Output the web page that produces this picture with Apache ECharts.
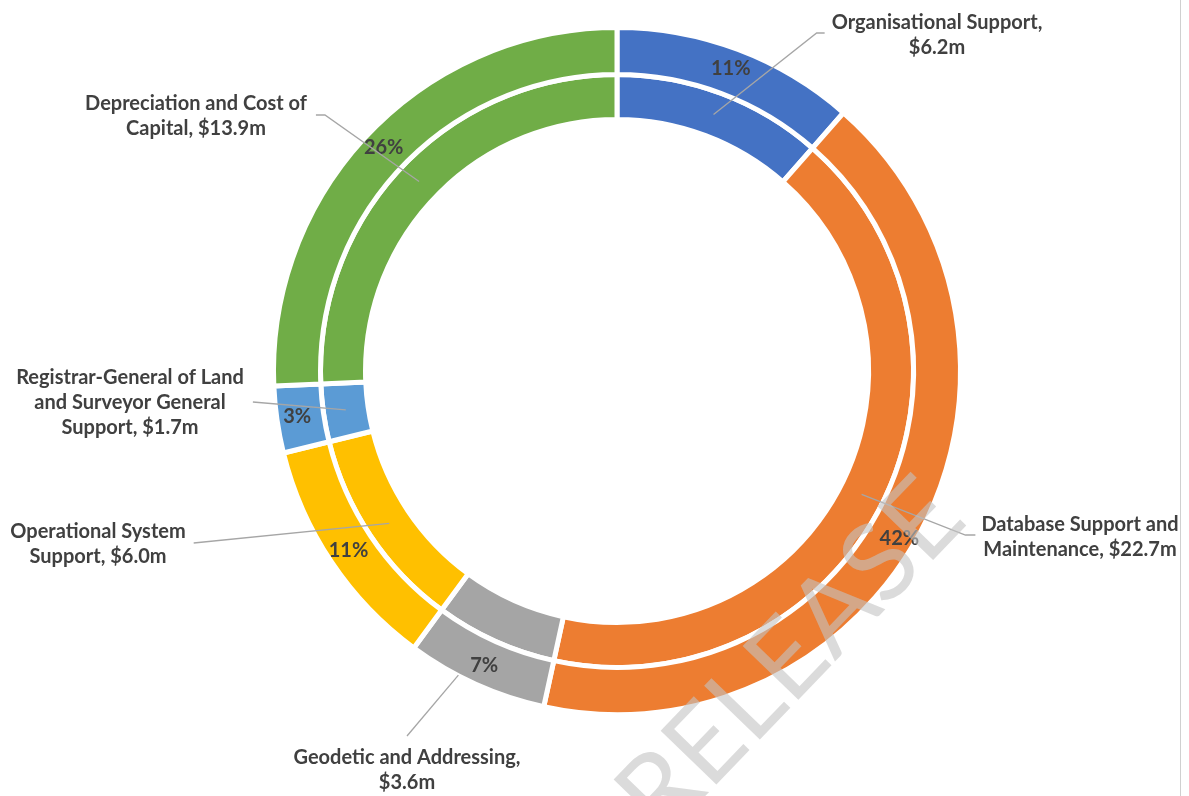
<!DOCTYPE html>
<html>
<head>
<meta charset="utf-8">
<script src="https://cdn.jsdelivr.net/npm/echarts@6/dist/echarts.min.js"></script>
<style>
html,body{margin:0;padding:0;background:#fff;}
#chart{width:1189px;height:796px;}
</style>
</head>
<body>
<div id="chart"></div>
<script>
// ---- data ----
const categories = [
  "Organisational Support",
  "Database Support and Maintenance",
  "Geodetic and Addressing",
  "Operational System Support",
  "Registrar-General of Land and Surveyor General Support",
  "Depreciation and Cost of Capital"
];
const values = [6.2, 22.7, 3.6, 6.0, 1.7, 13.9];   // $m
const colors = ['#4472C4', '#ED7D31', '#A5A5A5', '#FFC000', '#5B9BD5', '#70AD47'];
const wordsPerLine = [[2, 1], [3, 2], [3, 1], [2, 2], [3, 3, 2], [4, 2]];

// ---- layout (label placement, not data) ----
const CENTER = [617, 371];
const labelPlacement = [
  { x: 937,  y: 35,  side: 'left',  gap: 7, tail: 8 },
  { x: 1080, y: 537, side: 'left',  gap: 6, tail: 10 },
  { x: 407,  y: 770, side: 'top',   gap: 9, tail: 0, clipR: 343 },
  { x: 98,   y: 544, side: 'right', gap: 8, tail: 0 },
  { x: 130,  y: 403, side: 'right', gap: 9, tail: 0 },
  { x: 196,  y: 116, side: 'right', gap: 9, tail: 9 }
];
// small nudges of the percentage labels (pixels)
const percentNudge = [[0, 0], [-6, 22], [0, 0], [0, 0], [0, 0], [0, 0]];

function labelText(i) {
  const words = (categories[i] + ', $' + values[i].toFixed(1) + 'm').split(' ');
  const lines = [];
  let k = 0;
  wordsPerLine[i].forEach(n => { lines.push(words.slice(k, k + n).join(' ')); k += n; });
  return lines.join('\n');
}

const ringData = categories.map((c, i) => ({ name: c, value: values[i], itemStyle: { color: colors[i] } }));
const hostData = categories.map((c, i) => ({ name: c, value: values[i] }));
const FONT = 'Lato, "Open Sans", sans-serif';

const chart = echarts.init(document.getElementById('chart'), null, { renderer: 'canvas' });

const ringCommon = {
  type: 'pie',
  center: CENTER,
  startAngle: 90,
  clockwise: true,
  silent: true,
  z: 2,
  avoidLabelOverlap: false,
  emphasis: { disabled: true },
  itemStyle: { borderColor: '#ffffff', borderWidth: 5 },
  labelLine: { show: false }
};

chart.setOption({
  animation: false,
  backgroundColor: '#ffffff',
  series: [
    Object.assign({}, ringCommon, {
      name: 'inner',
      radius: [251.5, 296.5],
      label: { show: false },
      data: ringData
    }),
    Object.assign({}, ringCommon, {
      name: 'outer',
      radius: [296.5, 343.5],
      label: {
        show: true,
        position: 'inside',
        formatter: p => Math.round(p.percent) + '%',
        color: '#404040',
        fontFamily: FONT,
        fontWeight: 'bold',
        fontSize: 20,
        textBorderWidth: 0
      },
      labelLayout: p => ({ dx: percentNudge[p.dataIndex][0], dy: percentNudge[p.dataIndex][1] }),
      data: ringData
    }),
    {
      type: 'pie',
      name: 'labels',
      center: CENTER,
      radius: [0, 274],
      startAngle: 90,
      clockwise: true,
      silent: true,
      z: 5,
      avoidLabelOverlap: false,
      emphasis: { disabled: true },
      itemStyle: { color: 'rgba(0,0,0,0)', borderWidth: 0, opacity: 1 },
      label: {
        show: true,
        position: 'outside',
        formatter: p => labelText(p.dataIndex),
        color: '#404040',
        fontFamily: FONT,
        fontWeight: 'bold',
        fontSize: 20,
        lineHeight: 25,
        textBorderWidth: 0
      },
      labelLine: {
        show: true,
        length: 10,
        length2: 10,
        smooth: false,
        lineStyle: { color: '#A6A6A6', width: 1.3 }
      },
      labelLayout: function (p) {
        const pl = labelPlacement[p.dataIndex];
        const w = p.labelRect.width, h = p.labelRect.height;
        let start = p.labelLinePoints ? p.labelLinePoints[0].slice() : [CENTER[0], CENTER[1]];
        let end, elbow;
        if (pl.side === 'left') {
          end = [pl.x - w / 2 - pl.gap, pl.y - 2];
          elbow = [end[0] - pl.tail, end[1]];
        } else if (pl.side === 'right') {
          end = [pl.x + w / 2 + pl.gap, pl.y - 1];
          elbow = [end[0] + pl.tail, end[1]];
        } else {
          end = [pl.x, pl.y - h / 2 - pl.gap];
          elbow = end.slice();
        }
        if (pl.clipR) {
          const dx = elbow[0] - start[0], dy = elbow[1] - start[1];
          const fx = start[0] - CENTER[0], fy = start[1] - CENTER[1];
          const a = dx * dx + dy * dy, b = 2 * (fx * dx + fy * dy), c = fx * fx + fy * fy - pl.clipR * pl.clipR;
          const disc = b * b - 4 * a * c;
          if (disc >= 0) {
            const t = (-b + Math.sqrt(disc)) / (2 * a);
            if (t > 0 && t < 1) start = [start[0] + t * dx, start[1] + t * dy];
          }
        }
        return {
          x: pl.x,
          y: pl.y,
          align: 'center',
          verticalAlign: 'middle',
          labelLinePoints: [start, elbow, end]
        };
      },
      data: hostData
    }
  ],
  graphic: [
    {
      type: 'line',
      silent: true,
      shape: { x1: 1180.5, y1: 0, x2: 1180.5, y2: 796 },
      style: { stroke: '#D0D0D0', lineWidth: 1 },
      z: 50
    },
    {
      type: 'text',
      silent: true,
      x: 791,
      y: 657,
      rotation: 46 * Math.PI / 180,
      z: 100,
      style: {
        text: 'RELEASE',
        font: 'normal 108px Lato, "Open Sans", sans-serif',
        fill: 'rgba(195,195,195,0.6)',
        textAlign: 'center',
        textVerticalAlign: 'middle'
      }
    }
  ]
});
</script>
</body>
</html>
